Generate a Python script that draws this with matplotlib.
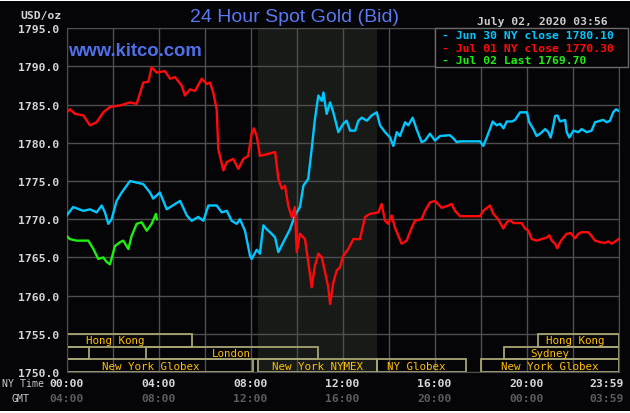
import matplotlib
matplotlib.use('Agg')
import matplotlib.pyplot as plt
from matplotlib.patches import Rectangle
from matplotlib.transforms import blended_transform_factory

W, H = 630, 414

# hours after midnight (NY time), price in USD/oz
jun30_hours = [0.01, 0.29, 0.73, 1.02, 1.31, 1.53, 1.67, 1.82, 1.96, 2.18, 2.40, 2.76, 3.05, 3.34,
               3.63, 3.77, 4.06, 4.36, 4.72, 4.94, 5.23, 5.44, 5.73, 5.95, 6.17, 6.53, 6.75, 6.97,
               7.18, 7.40, 7.54, 7.76, 7.98, 8.05, 8.27, 8.41, 8.56, 8.70, 8.92, 9.07, 9.21, 9.43,
               9.72, 9.93, 10.15, 10.30, 10.51, 10.66, 10.80, 10.95, 11.10, 11.17, 11.31, 11.46,
               11.60, 11.82, 12.03, 12.18, 12.33, 12.55, 12.69, 12.84, 13.06, 13.27, 13.49, 13.63,
               13.85, 14.07, 14.21, 14.36, 14.50, 14.72, 14.86, 15.05, 15.22, 15.44, 15.59, 15.80,
               16.02, 16.24, 16.67, 16.82, 16.96, 17.11, 17.98, 18.12, 18.27, 18.41, 18.53, 18.70,
               18.85, 19.00, 19.14, 19.36, 19.50, 19.72, 20.02, 20.12, 20.30, 20.44, 20.59, 20.81,
               20.95, 21.05, 21.17, 21.24, 21.34, 21.46, 21.68, 21.75, 21.86, 22.04, 22.25, 22.40,
               22.62, 22.83, 22.98, 23.20, 23.34, 23.49, 23.63, 23.77, 23.89, 24.0]
jun30_price = [1770.5, 1771.6, 1771.1, 1771.3, 1770.9, 1771.8, 1770.9, 1769.4, 1770.0, 1772.4,
               1773.5, 1775.0, 1774.8, 1774.6, 1773.5, 1772.7, 1773.5, 1771.3, 1772.0, 1772.4,
               1770.5, 1769.8, 1770.3, 1769.8, 1771.8, 1771.8, 1770.9, 1771.1, 1769.8, 1769.4,
               1770.0, 1768.5, 1765.2, 1764.8, 1766.0, 1765.5, 1769.2, 1768.7, 1768.1, 1767.6,
               1765.7, 1767.0, 1768.7, 1770.5, 1771.6, 1774.4, 1775.3, 1779.2, 1783.1, 1786.2,
               1785.5, 1786.6, 1783.8, 1785.3, 1784.0, 1781.4, 1782.5, 1782.9, 1781.6, 1781.6,
               1782.9, 1783.3, 1782.9, 1783.6, 1784.0, 1782.3, 1781.4, 1780.7, 1779.6, 1781.4,
               1780.9, 1782.7, 1782.3, 1783.3, 1781.8, 1780.1, 1780.3, 1781.2, 1780.3, 1780.9,
               1781.0, 1780.6, 1780.1, 1780.2, 1780.2, 1779.6, 1780.7, 1781.8, 1782.8, 1782.3,
               1782.5, 1781.9, 1782.8, 1782.8, 1783.0, 1784.0, 1784.0, 1782.7, 1781.8, 1780.9,
               1781.2, 1781.8, 1781.4, 1780.7, 1782.3, 1783.5, 1783.6, 1782.8, 1783.0, 1781.4,
               1780.7, 1781.6, 1781.4, 1781.8, 1781.4, 1781.6, 1782.7, 1782.9, 1783.0, 1782.7,
               1782.9, 1784.0, 1784.4, 1784.2]

jul01_hours = [0.01, 0.15, 0.37, 0.73, 1.02, 1.31, 1.60, 1.89, 2.33, 2.76, 3.05, 3.34, 3.56, 3.70,
               3.92, 4.28, 4.50, 4.72, 5.01, 5.15, 5.37, 5.59, 5.88, 6.10, 6.24, 6.38, 6.53, 6.60,
               6.82, 6.97, 7.25, 7.47, 7.69, 7.90, 8.05, 8.15, 8.27, 8.41, 8.70, 9.07, 9.21, 9.36,
               9.50, 9.64, 9.79, 9.93, 10.01, 10.15, 10.37, 10.51, 10.66, 10.80, 10.95, 11.10,
               11.24, 11.38, 11.46, 11.60, 11.75, 11.89, 12.03, 12.25, 12.47, 12.76, 12.98, 13.20,
               13.56, 13.70, 13.85, 13.99, 14.14, 14.28, 14.57, 14.79, 15.01, 15.15, 15.44, 15.59,
               15.80, 16.02, 16.31, 16.53, 16.75, 16.89, 17.11, 17.98, 18.12, 18.41, 18.56, 18.77,
               18.99, 19.14, 19.28, 19.43, 19.79, 19.93, 20.08, 20.23, 20.44, 20.66, 20.88, 20.99,
               21.10, 21.24, 21.34, 21.46, 21.60, 21.75, 21.92, 22.11, 22.25, 22.40, 22.69, 22.83,
               22.98, 23.20, 23.41, 23.56, 23.70, 23.92, 24.0]
jul01_price = [1784.0, 1784.4, 1783.8, 1783.6, 1782.3, 1782.7, 1784.0, 1784.7, 1784.9, 1785.3,
               1785.1, 1787.9, 1788.0, 1789.9, 1789.2, 1789.4, 1788.4, 1788.6, 1787.5, 1786.2,
               1787.0, 1786.8, 1788.4, 1787.7, 1787.9, 1786.6, 1784.4, 1779.2, 1776.4, 1777.5,
               1777.9, 1776.6, 1777.9, 1778.3, 1781.2, 1781.9, 1780.9, 1778.3, 1778.5, 1778.8,
               1775.3, 1774.0, 1774.4, 1771.8, 1770.3, 1771.6, 1765.7, 1768.1, 1767.4, 1764.4,
               1761.1, 1763.9, 1765.5, 1765.0, 1763.1, 1761.1, 1758.9, 1761.7, 1763.3, 1763.7,
               1765.2, 1766.1, 1767.4, 1767.4, 1770.3, 1770.7, 1770.9, 1772.0, 1769.8, 1769.4,
               1770.5, 1768.9, 1766.8, 1767.2, 1768.9, 1769.8, 1770.0, 1771.1, 1772.2, 1772.4,
               1771.5, 1771.7, 1772.0, 1771.1, 1770.4, 1770.4, 1771.1, 1771.8, 1770.7, 1770.0,
               1768.8, 1769.6, 1769.9, 1769.5, 1769.5, 1768.8, 1768.5, 1767.4, 1767.2, 1767.4,
               1767.6, 1767.9, 1767.2, 1766.8, 1766.2, 1767.0, 1767.6, 1768.1, 1768.2, 1767.5,
               1768.1, 1768.3, 1768.3, 1767.8, 1767.2, 1767.0, 1766.9, 1767.1, 1766.8, 1767.2,
               1767.4]

jul02_hours = [0.01, 0.15, 0.44, 0.95, 1.17, 1.38, 1.60, 1.75, 1.89, 2.11, 2.33, 2.47, 2.69, 2.83,
               3.05, 3.27, 3.49, 3.70, 3.89, 3.93]
jul02_price = [1767.8, 1767.4, 1767.2, 1767.2, 1766.1, 1764.8, 1765.0, 1764.4, 1764.1, 1766.5,
               1767.0, 1767.2, 1766.1, 1767.8, 1769.4, 1769.6, 1768.5, 1769.4, 1770.7, 1770.0]

legend_labels = ['- Jun 30 NY close 1780.10', '- Jul 01 NY close 1770.30', '- Jul 02 Last 1769.70']

# trading sessions: name, start hour, end hour, row, label hour
session_names = ['Hong Kong', 'Hong Kong', '', 'London', 'Sydney',
                 'New York Globex', 'New York NYMEX', 'NY Globex', 'New York Globex']
session_start = [0, 20.5, 0, 3.46, 19.0, 0, 8.33, 13.5, 18.0]
session_end = [5.47, 24, 0.96, 10.95, 24, 8.1, 13.5, 17.35, 24]
session_row = [0, 0, 1, 1, 1, 2, 2, 2, 2]
session_label_at = [2.1, 22.1, 0.5, 7.15, 21.0, 3.65, 10.9, 15.2, 21.0]

ny_ticks = [0, 4, 8, 12, 16, 20, 23.5]
ny_labels = ['00:00', '04:00', '08:00', '12:00', '16:00', '20:00', '23:59']
gmt_labels = ['04:00', '08:00', '12:00', '16:00', '20:00', '00:00', '03:59']

MONO = 'DejaVu Sans Mono'
BG = '#050407'
GRID = '#4e4e4e'

fig = plt.figure(figsize=(W / 100, H / 100), dpi=100)
fig.patch.set_facecolor('white')
fig.add_artist(Rectangle((0, 2 / H), 1, 1 - 4 / H, transform=fig.transFigure,
                         facecolor=BG, edgecolor='none', zorder=0))

ax = fig.add_axes([66.5 / W, 1 - 373 / H, 552 / W, 343.7 / H])
ax.set_facecolor(BG)
ax.set_xlim(0, 24)
ax.set_ylim(1750, 1795)
ax.set_xticks(range(0, 25, 2))
ax.set_yticks(range(1750, 1800, 5))
ax.set_xticklabels([])
ax.set_yticklabels(['%.1f' % v for v in range(1750, 1800, 5)])
ax.tick_params(axis='both', length=0)
ax.tick_params(axis='y', pad=5, labelsize=8.2, labelcolor='#d4d4d4')
for lab in ax.get_yticklabels():
    lab.set_fontfamily(MONO)
    lab.set_fontweight('bold')
ax.grid(True, color=GRID, lw=1)
ax.set_axisbelow(True)
for s in ax.spines.values():
    s.set_color(GRID)

# NYMEX pit session shading
ax.axvspan(8.33, 13.5, color='#171a17', zorder=0.5, lw=0)

ax.plot(jun30_hours, jun30_price, color='#00c8ff', lw=1.7, zorder=3)
ax.plot(jul01_hours, jul01_price, color='#ff0a0a', lw=1.7, zorder=3)
ax.plot(jul02_hours, jul02_price, color='#1eee10', lw=1.7, zorder=4)

row_h = 5 / 3
for name, s, e, r, lx in zip(session_names, session_start, session_end, session_row, session_label_at):
    y0 = 1755 - (r + 1) * row_h
    ax.add_patch(Rectangle((s, y0), e - s, row_h, fill=False, ec='#a8a574', lw=1.3, zorder=2))
    if name:
        ax.text(lx, y0 + row_h / 2, name, ha='center', va='center', color='#ffc000',
                fontsize=7.8, family=MONO, zorder=5)

# x labels
tr = blended_transform_factory(ax.transData, fig.transFigure)
for t, a, b in zip(ny_ticks, ny_labels, gmt_labels):
    ax.text(t, 1 - 384.5 / H, a, transform=tr, ha='center', va='center', color='#d8d8d8',
            fontsize=8.2, family=MONO, weight='bold')
    ax.text(t, 1 - 399 / H, b, transform=tr, ha='center', va='center', color='#5c5c5c',
            fontsize=8.2, family=MONO, weight='bold')
fig.text(2 / W, 1 - 384.5 / H, 'NY Time', ha='left', va='center', color='#c8c8c8',
         fontsize=7.1, family=MONO)
fig.text(20 / W, 1 - 399 / H, 'GMT', ha='center', va='center', color='#c8c8c8',
         fontsize=7.1, family=MONO)

fig.text(20 / W, 1 - 15.5 / H, 'USD/oz', ha='left', va='center', color='#d4d4d4',
         fontsize=8.2, family=MONO, weight='bold')
fig.text(295 / W, 1 - 17 / H, '24 Hour Spot Gold (Bid)', ha='center', va='center',
         color='#5a78f0', fontsize=14, family='Liberation Sans')
fig.text(68 / W, 1 - 51 / H, 'www.kitco.com', ha='left', va='center',
         color='#5070ea', fontsize=13.3, family='Liberation Sans', weight='bold')
fig.text(608 / W, 1 - 22 / H, 'July 02, 2020 03:56', ha='right', va='center',
         color='#cccccc', fontsize=8.2, family=MONO, weight='bold')

# legend box
fig.add_artist(Rectangle((435 / W, 1 - 68 / H), 193 / W, 39 / H, transform=fig.transFigure,
                         facecolor=BG, edgecolor='#6a6a6a', lw=1, zorder=5))
for i, (txt, c) in enumerate(zip(legend_labels, ['#00c8ff', '#ff0a0a', '#1eee10'])):
    fig.text(442 / W, 1 - (36 + 12.7 * i) / H, txt, ha='left', va='center', color=c,
             fontsize=8.2, family=MONO, weight='bold', zorder=6)

fig.savefig('out.png', dpi=100, facecolor=fig.get_facecolor())
